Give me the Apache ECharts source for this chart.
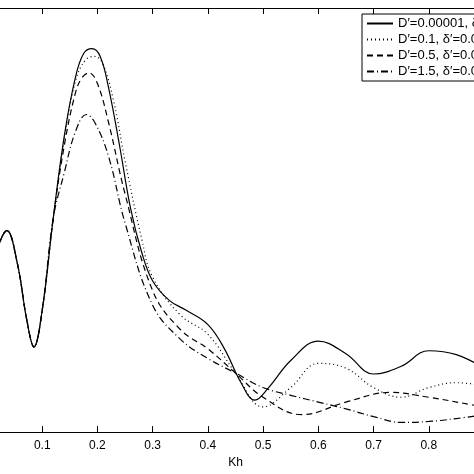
<!DOCTYPE html><html><head><meta charset="utf-8">
<script src="https://cdn.jsdelivr.net/npm/echarts@6/dist/echarts.min.js"></script></head>
<body style="margin:0;overflow:hidden;width:474px;height:474px"><div id="c" style="position:absolute;left:-16px;top:0;width:520px;height:474px"></div><script>
const names=["D′=0.00001, δ′=0.01","D′=0.1, δ′=0.01","D′=0.5, δ′=0.01","D′=1.5, δ′=0.01"];
const early=[[0.0,146],[0.02,191],[0.036,208],[0.055,174],[0.072,116],[0.085,88],[0.1,126],[0.12,221]];
const s1=[[0.14,306],[0.16,366],[0.175,391],[0.19,396],[0.205,388],[0.22,356],[0.24,296],[0.26,231],[0.28,186],[0.3,156],[0.33,136],[0.36,126],[0.4,111],[0.43,86],[0.46,51],[0.485,33],[0.51,46],[0.55,74],[0.6,94],[0.65,81],[0.7,60],[0.75,68],[0.8,84],[0.85,80],[0.9,66]];
const s2=[[0.14,303],[0.16,362],[0.178,384],[0.195,388],[0.21,380],[0.23,340],[0.25,280],[0.28,200],[0.3,160],[0.35,121],[0.4,101],[0.45,61],[0.5,26],[0.55,46],[0.6,71],[0.65,66],[0.7,46],[0.75,36],[0.8,46],[0.85,51],[0.9,48]];
const s3=[[0.14,296],[0.16,350],[0.172,366],[0.185,371],[0.2,360],[0.22,320],[0.25,246],[0.3,146],[0.35,106],[0.4,86],[0.45,61],[0.5,36],[0.57,18],[0.65,31],[0.73,41],[0.8,36],[0.88,28],[0.9,26]];
const s4=[[0.14,268],[0.16,310],[0.18,328],[0.195,320],[0.22,285],[0.25,216],[0.3,131],[0.35,96],[0.4,76],[0.45,61],[0.5,46],[0.55,38],[0.6,31],[0.65,24],[0.7,16],[0.75,10],[0.8,11],[0.85,14],[0.9,18]];
const types=['solid',[1,3],[6,4],[7,3,1,3]];
const data=[s1,s2,s3,s4];
const ch=echarts.init(document.getElementById('c'));
ch.setOption({animation:false,
grid:{left:0,top:8,width:500,height:438},
xAxis:[{type:'value',min:0,max:0.9,interval:0.1,name:'Kh',nameLocation:'middle',nameGap:20,nameTextStyle:{color:'#000',fontSize:12,fontFamily:'Liberation Sans'},
axisLine:{lineStyle:{color:'#000'}},axisTick:{inside:true,length:6,lineStyle:{color:'#000'}},splitLine:{show:false},
axisLabel:{color:'#000',fontSize:12,fontFamily:'Liberation Sans',margin:8,formatter:v=>v>0.05&&v<0.85?v.toFixed(1):''}},
{type:'value',position:'top',min:0,max:0.9,interval:0.1,axisLine:{lineStyle:{color:'#000'}},axisTick:{inside:true,length:6,lineStyle:{color:'#000'}},axisLabel:{show:false},splitLine:{show:false}}],
yAxis:{type:'value',min:0,max:438,show:false},
legend:{left:378,top:14,orient:'vertical',itemGap:3,itemWidth:26,itemHeight:10,padding:[3,4],
backgroundColor:'#fff',borderColor:'#000',borderWidth:1,borderRadius:0,itemStyle:{opacity:0},
textStyle:{color:'#000',fontSize:13,fontFamily:'Liberation Sans'},data:names},
series:data.map((d,i)=>({name:names[i],type:'line',smooth:0.4,symbol:'none',data:early.concat(d),
lineStyle:{color:'#000',width:1.2,type:types[i]},itemStyle:{color:'#000'}}))});
</script></body></html>
